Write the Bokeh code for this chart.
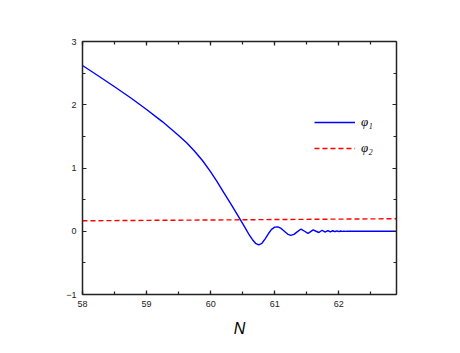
from bokeh.plotting import figure
from bokeh.models import Range1d, LinearAxis, SingleIntervalTicker, Legend, LegendItem
from bokeh.embed import file_html
from bokeh.resources import INLINE

# phi_1 (blue solid)
N1 = [58.0, 58.25, 58.5, 58.75, 59.0, 59.25, 59.5, 59.625, 59.75, 59.875, 60.0, 60.1, 60.2,
      60.3, 60.4, 60.5, 60.55, 60.6, 60.65, 60.7, 60.75, 60.8, 60.85, 60.9, 60.95, 61.0,
      61.05, 61.1, 61.15, 61.2, 61.25, 61.3, 61.35, 61.41, 61.465, 61.52, 61.56, 61.60,
      61.645, 61.69, 61.715, 61.74, 61.765, 61.79, 61.81, 61.83, 61.85, 61.87, 61.887,
      61.905, 61.922, 61.94, 61.955, 61.97, 61.985, 62.0, 62.015, 62.03, 62.043, 62.055,
      62.068, 62.08, 62.093, 62.105, 62.118, 62.13, 62.15, 62.9]
phi1 = [2.62, 2.455, 2.285, 2.11, 1.925, 1.73, 1.515, 1.398, 1.265, 1.115, 0.94, 0.785, 0.62,
        0.455, 0.29, 0.12, 0.035, -0.055, -0.13, -0.19, -0.215, -0.19, -0.12, -0.04, 0.03, 0.065,
        0.07, 0.045, 0.0, -0.045, -0.065, -0.05, -0.01, 0.035, 0.0, -0.035, -0.005, 0.022,
        0.0, -0.02, 0.0, 0.014, 0.0, -0.012, 0.0, 0.01, 0.0, -0.009, 0.0,
        0.008, 0.0, -0.007, 0.0, 0.006, 0.0, -0.005, 0.0, 0.004, 0.0, -0.003,
        0.0, 0.003, 0.0, -0.002, 0.0, 0.002, 0.0, 0.0]

# phi_2 (red dashed)
N2 = [58.0, 59.0, 60.0, 61.0, 62.0, 62.9]
phi2 = [0.165, 0.172, 0.178, 0.185, 0.192, 0.198]

x_ticks_interval = 1
y_ticks_interval = 1

p = figure(width=452, height=345, output_backend="svg", toolbar_location=None,
           x_range=Range1d(58, 62.9), y_range=Range1d(-1, 3),
           min_border_left=82, min_border_right=56, min_border_top=41, min_border_bottom=51,
           x_axis_label="N")
p.xgrid.visible = False
p.ygrid.visible = False
p.outline_line_color = None
p.background_fill_color = "white"
p.border_fill_color = "white"

r1 = p.line(N1, phi1, line_color="#0000ff", line_width=1.4)
r2 = p.line(N2, phi2, line_color="#ff0000", line_width=1.4, line_dash="5 3")

def style(ax, labels=True):
    ax.axis_line_color = "#222222"
    ax.axis_line_width = 1.5
    ax.major_tick_in = 4
    ax.major_tick_out = 0
    ax.minor_tick_in = 3
    ax.minor_tick_out = 0
    ax.major_tick_line_color = "#222222"
    ax.minor_tick_line_color = "#222222"
    ax.major_tick_line_width = 1.2
    ax.minor_tick_line_width = 1.2
    ax.major_label_text_font = "Liberation Sans"
    ax.major_label_text_font_size = "9px" if labels else "0px"
    ax.major_label_text_color = "#222222" if labels else None
    ax.major_label_standoff = 6

p.xaxis.ticker = SingleIntervalTicker(interval=x_ticks_interval, num_minor_ticks=2)
p.yaxis.ticker = SingleIntervalTicker(interval=y_ticks_interval, num_minor_ticks=2)
style(p.xaxis[0])
style(p.yaxis[0])
p.xaxis.axis_label_text_font = "Liberation Sans"
p.xaxis.axis_label_text_font_style = "italic"
p.xaxis.axis_label_text_font_size = "16px"
p.xaxis.axis_label_standoff = 10
p.xaxis.axis_label_text_color = "black"

top = LinearAxis(ticker=SingleIntervalTicker(interval=x_ticks_interval, num_minor_ticks=2))
right = LinearAxis(ticker=SingleIntervalTicker(interval=y_ticks_interval, num_minor_ticks=2))
style(top, labels=False)
style(right, labels=False)
p.add_layout(top, "above")
p.add_layout(right, "right")

legend = Legend(items=[LegendItem(label="φ₁", renderers=[r1]),
                       LegendItem(label="φ₂", renderers=[r2])],
                location=(232, 136), padding=0, margin=0, spacing=6,
                glyph_width=41, glyph_height=20, label_height=20, label_standoff=6,
                border_line_color=None, background_fill_alpha=0,
                label_text_font="Liberation Serif", label_text_font_style="italic",
                label_text_font_size="13px", label_text_color="black")
p.add_layout(legend, "center")

open("out.html", "w").write(file_html(p, INLINE))
